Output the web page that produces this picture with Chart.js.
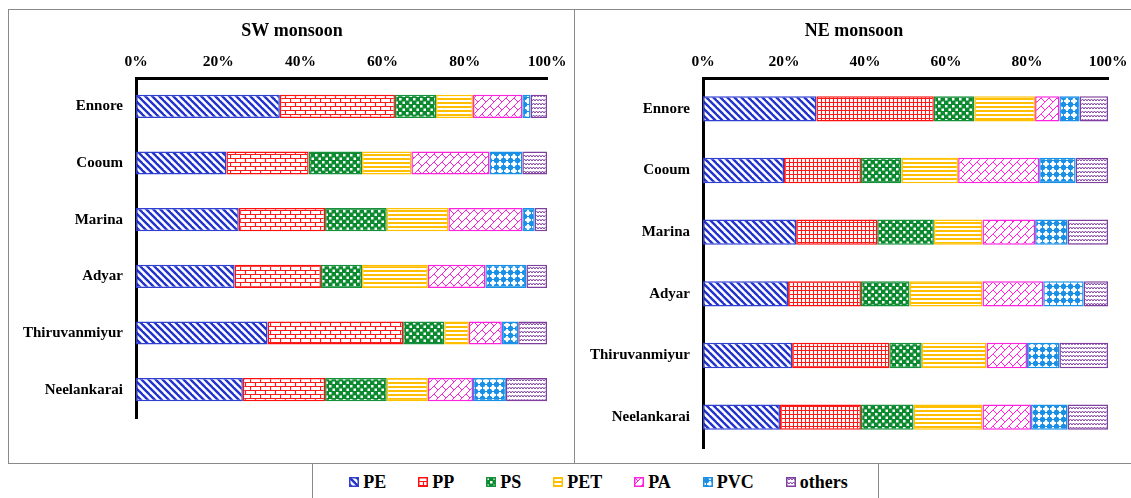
<!DOCTYPE html>
<html>
<head>
<meta charset="utf-8">
<script src="https://cdn.jsdelivr.net/npm/chart.js@4.4.1/dist/chart.umd.min.js"></script>
<style>
  html, body { margin: 0; padding: 0; background: #fff; }
  body { width: 1131px; height: 498px; position: relative; overflow: hidden;
         font-family: "Liberation Serif", "Times New Roman", serif; }
  .frame { position: absolute; left: 8px; top: 9px; width: 1130px; height: 453px;
           border-top: 1.5px solid #8a8a8a; border-left: 1.5px solid #8a8a8a; border-bottom: 1.5px solid #8a8a8a; }
  .divider { position: absolute; left: 574px; top: 9px; width: 0; height: 455px; border-left: 1.5px solid #8a8a8a; }
  .legbox { position: absolute; left: 312px; top: 463px; width: 565px; height: 40px;
            border-left: 1.5px solid #8a8a8a; border-right: 1.5px solid #8a8a8a; }
  .legend { position: absolute; left: 0; top: 0; width: 100%; height: 38px; display: flex;
            align-items: center; justify-content: center; padding-left: 6px; box-sizing: border-box; }
  .item { display: flex; align-items: center; margin: 0 16px; font-weight: bold; font-size: 18px; color: #000; }
  .item canvas { margin-right: 4px; }
  #sw { position: absolute; left: 10px; top: 10px; }
  #ne { position: absolute; left: 577px; top: 10px; }
</style>
</head>
<body>
<div class="frame"></div>
<div class="divider"></div>
<div class="legbox"><div class="legend" id="legend"></div></div>
<canvas id="sw" width="564" height="452"></canvas>
<canvas id="ne" width="554" height="452"></canvas>
<script>
// ---- data ----
const categories = ['Ennore', 'Cooum', 'Marina', 'Adyar', 'Thiruvanmiyur', 'Neelankarai'];
const seriesNames = ['PE', 'PP', 'PS', 'PET', 'PA', 'PVC', 'others'];
const tickValues = [0, 20, 40, 60, 80, 100];

const swPE     = [35, 22, 25, 24, 32, 26];
const swPP     = [28, 20, 21, 21, 33, 20];
const swPS     = [10, 13, 15, 10, 10, 15];
const swPET    = [ 9, 12, 15, 16,  6, 10];
const swPA     = [12, 19, 18, 14,  8, 11];
const swPVC    = [ 2,  8,  3, 10,  4,  8];
const swOthers = [ 4,  6,  3,  5,  7, 10];

const nePE     = [28, 20, 23, 21, 22, 19];
const nePP     = [29, 19, 20, 18, 24, 20];
const nePS     = [10, 10, 14, 12,  8, 13];
const nePET    = [15, 14, 12, 18, 16, 17];
const nePA     = [ 6, 20, 13, 15, 10, 12];
const nePVC    = [ 5,  9,  8, 10,  8,  9];
const neOthers = [ 7,  8, 10,  6, 12, 10];

// ---- styles ----
const FONT = '"Liberation Serif", "Times New Roman", serif';
const borderColors = {
  PE: '#2f3fd0', PP: '#ff1010', PS: '#16903a', PET: '#ffc000',
  PA: '#ff22dd', PVC: '#1a8fe6', others: '#7f3f9f'
};

function tile(w, h, draw) {
  const c = document.createElement('canvas');
  c.width = w; c.height = h;
  const g = c.getContext('2d');
  g.fillStyle = '#fff'; g.fillRect(0, 0, w, h);
  draw(g, w, h);
  return c;
}
const tiles = {
  PE: tile(7, 7, (g) => {
    g.strokeStyle = '#2233cc'; g.lineWidth = 2.4;
    for (const o of [-7, 0, 7]) { g.beginPath(); g.moveTo(o - 1, -1); g.lineTo(o + 8, 8); g.stroke(); }
  }),
  PPbrick: tile(10, 8, (g) => {
    g.strokeStyle = '#ff1a1a'; g.lineWidth = 1.2;
    g.beginPath();
    g.moveTo(0, 0.5); g.lineTo(10, 0.5);
    g.moveTo(0, 4.5); g.lineTo(10, 4.5);
    g.moveTo(0.5, 0); g.lineTo(0.5, 4.5);
    g.moveTo(5.5, 4.5); g.lineTo(5.5, 8);
    g.stroke();
  }),
  PPgrid: tile(4, 4, (g) => {
    g.strokeStyle = '#ff1a1a'; g.lineWidth = 1.1;
    g.beginPath();
    g.moveTo(0, 0.5); g.lineTo(4, 0.5);
    g.moveTo(0.5, 0); g.lineTo(0.5, 4);
    g.stroke();
  }),
  PS: tile(7, 7, (g) => {
    g.fillStyle = '#0b8a2f'; g.fillRect(0, 0, 7, 7);
    g.fillStyle = '#fff'; g.fillRect(0.5, 0.5, 2.5, 2.5); g.fillRect(4, 4, 2.5, 2.5);
  }),
  PET: tile(4, 4, (g) => {
    g.fillStyle = '#ffbf00'; g.fillRect(0, 0, 4, 2);
  }),
  PA: tile(8, 8, (g) => {
    g.strokeStyle = '#ff22dd'; g.lineWidth = 1;
    g.beginPath();
    g.moveTo(-1, 9); g.lineTo(9, -1);
    g.moveTo(-1, 1); g.lineTo(1, -1);
    g.moveTo(7, 9); g.lineTo(9, 7);
    g.moveTo(0, 0); g.lineTo(4, 4);
    g.moveTo(8, 8); g.lineTo(9, 9);
    g.stroke();
  }),
  PVC: tile(7, 7, (g) => {
    g.fillStyle = '#1a8fe6';
    g.beginPath(); g.arc(3.5, 3.5, 2.7, 0, Math.PI * 2); g.fill();
    g.fillRect(0, 3, 7, 1); g.fillRect(3, 0, 1, 7);
  }),
  others: tile(6, 4, (g) => {
    g.strokeStyle = '#8040a0'; g.lineWidth = 1;
    g.beginPath(); g.moveTo(0, 3); g.lineTo(1.5, 1); g.lineTo(3, 3); g.lineTo(4.5, 1); g.lineTo(6, 3); g.stroke();
  })
};

function pat(ctx, key) { return ctx.createPattern(tiles[key], 'repeat'); }

function makeChart(id, title, values, ppKey, padRight, padBottom) {
  const canvas = document.getElementById(id);
  const ctx = canvas.getContext('2d');
  const keys = ['PE', ppKey, 'PS', 'PET', 'PA', 'PVC', 'others'];
  const datasets = seriesNames.map((name, i) => ({
    label: name,
    data: values[i],
    backgroundColor: pat(ctx, keys[i]),
    borderColor: borderColors[name],
    borderWidth: 1.5,
    borderSkipped: false,
    barPercentage: 0.41,
    categoryPercentage: 1.0
  }));
  return new Chart(ctx, {
    type: 'bar',
    data: { labels: categories, datasets },
    options: {
      responsive: false,
      animation: false,
      indexAxis: 'y',
      layout: { padding: { left: 0, right: 0, top: 0, bottom: padBottom } },
      plugins: {
        legend: { display: false },
        tooltip: { enabled: false },
        title: {
          display: true, text: title, color: '#000',
          font: { family: FONT, size: 18, weight: 'bold' },
          padding: { top: 11, bottom: 6 }
        }
      },
      scales: {
        x: {
          position: 'top', stacked: true, min: 0, max: 100,
          afterBuildTicks: (s) => { s.ticks = tickValues.map(v => ({ value: v })); },
          afterFit: (s) => { s.height = 29.4; s.paddingLeft = 0; s.paddingRight = padRight; },
          grid: { display: false, drawTicks: false, tickLength: 0 },
          border: { display: true, color: '#000', width: 3 },
          ticks: {
            padding: 7, color: '#000', maxRotation: 0,
            font: { family: FONT, size: 15.5, weight: 'bold' },
            callback: (v) => v + '%'
          }
        },
        y: {
          stacked: true,
          afterFit: (s) => { s.width = 126; s.paddingTop = 0; s.paddingBottom = 0; },
          grid: { display: false, drawTicks: false, tickLength: 0 },
          border: { display: true, color: '#000', width: 3 },
          ticks: {
            padding: 13, color: '#000',
            font: { family: FONT, size: 15, weight: 'bold' }
          }
        }
      }
    }
  });
}

makeChart('sw', 'SW monsoon', [swPE, swPP, swPS, swPET, swPA, swPVC, swOthers], 'PPbrick', 27, 44);
makeChart('ne', 'NE monsoon', [nePE, nePP, nePS, nePET, nePA, nePVC, neOthers], 'PPgrid', 23, 14);

// ---- legend ----
const legendKeys = ['PE', 'PPbrick', 'PS', 'PET', 'PA', 'PVC', 'others'];
const legend = document.getElementById('legend');
seriesNames.forEach((name, i) => {
  const item = document.createElement('div');
  item.className = 'item';
  const sw = document.createElement('canvas');
  sw.width = 10; sw.height = 10;
  const g = sw.getContext('2d');
  g.fillStyle = g.createPattern(tiles[legendKeys[i]], 'repeat');
  g.fillRect(0, 0, 10, 10);
  g.strokeStyle = borderColors[name]; g.lineWidth = 1.5;
  g.strokeRect(0.75, 0.75, 8.5, 8.5);
  const t = document.createElement('span');
  t.textContent = name;
  item.appendChild(sw); item.appendChild(t);
  legend.appendChild(item);
});
</script>
</body>
</html>
